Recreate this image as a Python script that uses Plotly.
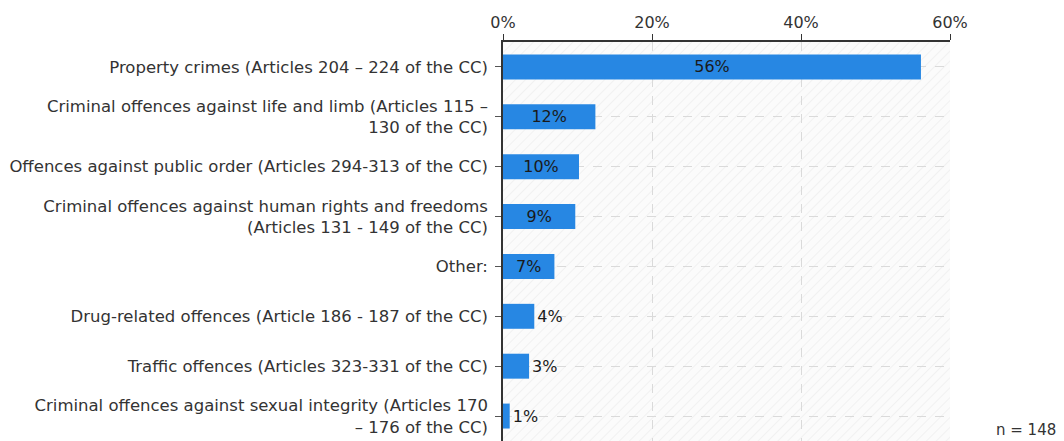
import base64
import plotly.graph_objects as go

categories = [
    "Property crimes (Articles 204 – 224 of the CC)",
    "Criminal offences against life and limb (Articles 115 –<br>130 of the CC)",
    "Offences against public order (Articles 294-313 of the CC)",
    "Criminal offences against human rights and freedoms<br>(Articles 131 - 149 of the CC)",
    "Other:",
    "Drug-related offences (Article 186 - 187 of the CC)",
    "Traffic offences (Articles 323-331 of the CC)",
    "Criminal offences against sexual integrity (Articles 170<br>– 176 of the CC)",
]
values = [56.1, 12.4, 10.2, 9.7, 6.9, 4.2, 3.5, 0.9]
labels = ["56%", "12%", "10%", "9%", "7%", "4%", "3%", "1%"]
positions = ["inside"] * 5 + ["outside"] * 3
axis_max = 60
tick_vals = [0, 20, 40, 60]
tick_text = ["0%", "20%", "40%", "60%"]
note = "n = 148"

FONT = "DejaVu Sans"
W, H = 1064, 441
ML, MR, MT, MB = 503, 114, 42, 0
PW, PH = W - ML - MR, H - MT - MB

# light diagonal hatch for plot area background
svg = (
    f'<svg xmlns="http://www.w3.org/2000/svg" width="{PW}" height="{PH}" viewBox="0 0 {PW} {PH}">'
    '<defs><pattern id="h" width="7" height="7" patternUnits="userSpaceOnUse" '
    'patternTransform="rotate(45)">'
    '<rect width="7" height="7" fill="#fbfbfb"/>'
    '<line x1="0" y1="0" x2="0" y2="7" stroke="#eeeeee" stroke-width="1.5"/>'
    '</pattern></defs>'
    f'<rect width="{PW}" height="{PH}" fill="url(#h)"/></svg>'
)
hatch_src = "data:image/svg+xml;base64," + base64.b64encode(svg.encode()).decode()

fig = go.Figure()

fig.add_trace(go.Bar(
    y=categories, x=values, orientation="h",
    width=0.5,
    marker=dict(color="#2787e3", line=dict(width=0)),
    text=labels, textposition=positions,
    insidetextanchor="middle",
    textfont=dict(family=FONT, size=16, color="#1a1a1a"),
    cliponaxis=False,
    showlegend=False,
))

fig.update_layout(
    width=W, height=H,
    margin=dict(l=ML, r=MR, t=MT, b=MB),
    paper_bgcolor="white", plot_bgcolor="#fbfbfb",
    font=dict(family=FONT, size=16, color="#333333"),
    images=[dict(
        source=hatch_src, xref="paper", yref="paper", x=0, y=1,
        sizex=1, sizey=1, sizing="stretch", xanchor="left", yanchor="top",
        layer="below",
    )],
    xaxis=dict(
        side="top", range=[0, axis_max], tickvals=tick_vals, ticktext=tick_text,
        showline=True, linecolor="#333333", linewidth=1.5,
        ticks="outside", ticklen=6, tickcolor="#333333",
        showgrid=True, gridcolor="#dadada", griddash="dash", gridwidth=1,
        zeroline=False, tickfont=dict(size=16, color="#333333"),
    ),
    yaxis=dict(
        autorange="reversed",
        showline=True, linecolor="#333333", linewidth=1.5,
        ticks="outside", ticklen=6, tickcolor="#555555",
        ticklabelstandoff=4,
        showgrid=True, gridcolor="#dadada", griddash="dash", gridwidth=1,
        tickfont=dict(size=16.5, color="#333333"),
    ),
    annotations=[dict(
        text=note, xref="paper", yref="paper", x=(1058 - ML) / PW, y=0.0,
        xanchor="right", yanchor="bottom", showarrow=False,
        font=dict(size=15, color="#333333"),
    )],
)

fig.write_html("out.html", config={"displayModeBar": False},
               post_script="document.body.style.margin='0';")
